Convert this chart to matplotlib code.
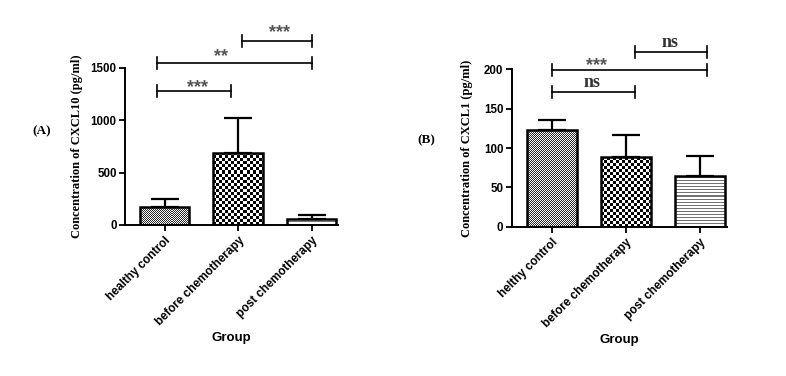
import numpy as np
import matplotlib
matplotlib.use("Agg")
import matplotlib.pyplot as plt

# data
groups_a = ["healthy control", "before chemotherapy", "post chemotherapy"]
groups_b = ["helthy control", "before chemotherapy", "post chemotherapy"]

cxcl10_mean = [169, 690, 54]
cxcl10_sd = [76, 334, 41]

cxcl1_mean = [123, 89, 65]
cxcl1_sd = [13, 28, 25]

# significance brackets: (x0, x1, y, label, label_x, label_y)
sig_a = [(-0.11, 0.90, 1279, "***", 0.45, 1367),
         (-0.11, 2.00, 1543, "**", 0.77, 1663),
         (1.05, 2.00, 1758, "***", 1.56, 1892)]
sig_b = [(0.0, 1.12, 171.5, "ns", 0.54, 183),
         (0.0, 2.10, 199, "***", 0.61, 212),
         (1.12, 2.10, 222, "ns", 1.59, 234)]

patterns = ["fine", "check", "hline"]

sans = "Liberation Sans"
serif = "Liberation Serif"

fig = plt.figure(figsize=(7.86, 3.76), dpi=100)
ax_a = fig.add_axes([0.159, 0.4016, 0.271, 0.418])
ax_b = fig.add_axes([0.651, 0.397, 0.2735, 0.4186])


def make_pattern(kind, ny, nx):
    i, j = np.mgrid[0:ny, 0:nx]
    if kind == "fine":
        return np.where((i + j) % 2 == 0, 0.15, 1.0)
    if kind == "check":
        return np.where((i // 3 + j // 3) % 2 == 0, 0.0, 1.0)
    # horizontal lines
    return np.where(i % 3 == 0, 0.45, 1.0)


def fill_bars(ax, bars):
    fig.canvas.draw()
    pxx = ax.transData.transform((1, 0))[0] - ax.transData.transform((0, 0))[0]
    pxy = ax.transData.transform((0, 1))[1] - ax.transData.transform((0, 0))[1]
    for bar, kind in zip(bars, patterns):
        x0, y0 = bar.get_x(), bar.get_y()
        w, h = bar.get_width(), bar.get_height()
        nx = int(np.ceil(w * pxx)) + 1
        ny = int(np.ceil(h * pxy)) + 1
        img = make_pattern(kind, ny, nx)
        im = ax.imshow(img, cmap="gray", vmin=0, vmax=1, origin="lower",
                       interpolation="nearest", aspect="auto",
                       extent=(x0, x0 + nx / pxx, y0, y0 + ny / pxy), zorder=2)
        im.set_clip_path(bar)


def panel(ax, labels, means, sds, sig, ymax, yticks, ylabel, label_x, tag, tag_x, tag_y):
    x = np.arange(len(labels))
    bars = ax.bar(x, means, width=0.67, facecolor="none", edgecolor="black",
                  linewidth=1.8, zorder=3)
    ax.errorbar(x, means, yerr=[[0] * len(sds), sds], fmt="none", ecolor="black",
                elinewidth=1.6, capsize=10, capthick=1.6, zorder=1)
    ax.set_xlim(-0.54, 2.36)
    ax.set_ylim(0, ymax)
    ax.set_yticks(yticks)
    ax.set_xticks(x)
    ax.set_xticklabels(labels, rotation=45, ha="right", rotation_mode="anchor",
                       fontfamily=sans, fontweight="bold", fontsize=8.5)
    for t in ax.get_yticklabels():
        t.set_fontfamily(sans)
        t.set_fontweight("bold")
        t.set_fontsize(8.3)
    ax.tick_params(direction="out", length=4, width=1.3, pad=2)
    ax.tick_params(axis="x", pad=3)
    for s in ["top", "right"]:
        ax.spines[s].set_visible(False)
    for s in ["left", "bottom"]:
        ax.spines[s].set_linewidth(1.4)
    ax.set_ylabel(ylabel, fontfamily=serif, fontweight="bold", fontsize=9)
    ax.yaxis.set_label_coords(label_x, 0.5)
    ax.set_xlabel("Group", fontfamily=sans, fontweight="bold", fontsize=9.5, labelpad=3)
    ax.patch.set_visible(False)

    cap = ymax * 0.038
    for x0, x1, y, lab, lx, ly in sig:
        ax.plot([x0, x1], [y, y], color="black", lw=1.2, clip_on=False)
        ax.plot([x0, x0], [y - cap, y + cap], color="black", lw=1.2, clip_on=False)
        ax.plot([x1, x1], [y - cap, y + cap], color="black", lw=1.2, clip_on=False)
        if lab == "ns":
            ax.text(lx, ly, lab, ha="center", va="center", fontfamily=serif,
                    fontweight="bold", fontsize=13, color="#333333", clip_on=False)
        else:
            ax.text(lx, ly - ymax * 0.067, lab, ha="center", va="baseline", fontfamily=sans,
                    fontweight="bold", fontsize=13, color="#555555", clip_on=False)

    fig.text(tag_x, tag_y, tag, ha="center", va="center", fontfamily=serif,
             fontweight="bold", fontsize=9.5)
    return bars


bars_a = panel(ax_a, groups_a, cxcl10_mean, cxcl10_sd, sig_a, 1500,
               [0, 500, 1000, 1500], "Concentration of CXCL10 (pg/ml)", -0.197,
               "(A)", 42 / 786, 1 - 131 / 376)
bars_b = panel(ax_b, groups_b, cxcl1_mean, cxcl1_sd, sig_b, 200,
               [0, 50, 100, 150, 200], "Concentration of CXCL1 (pg/ml)", -0.18,
               "(B)", 426 / 786, 1 - 140 / 376)

fill_bars(ax_a, bars_a)
fill_bars(ax_b, bars_b)

fig.savefig("out.png", dpi=100)
